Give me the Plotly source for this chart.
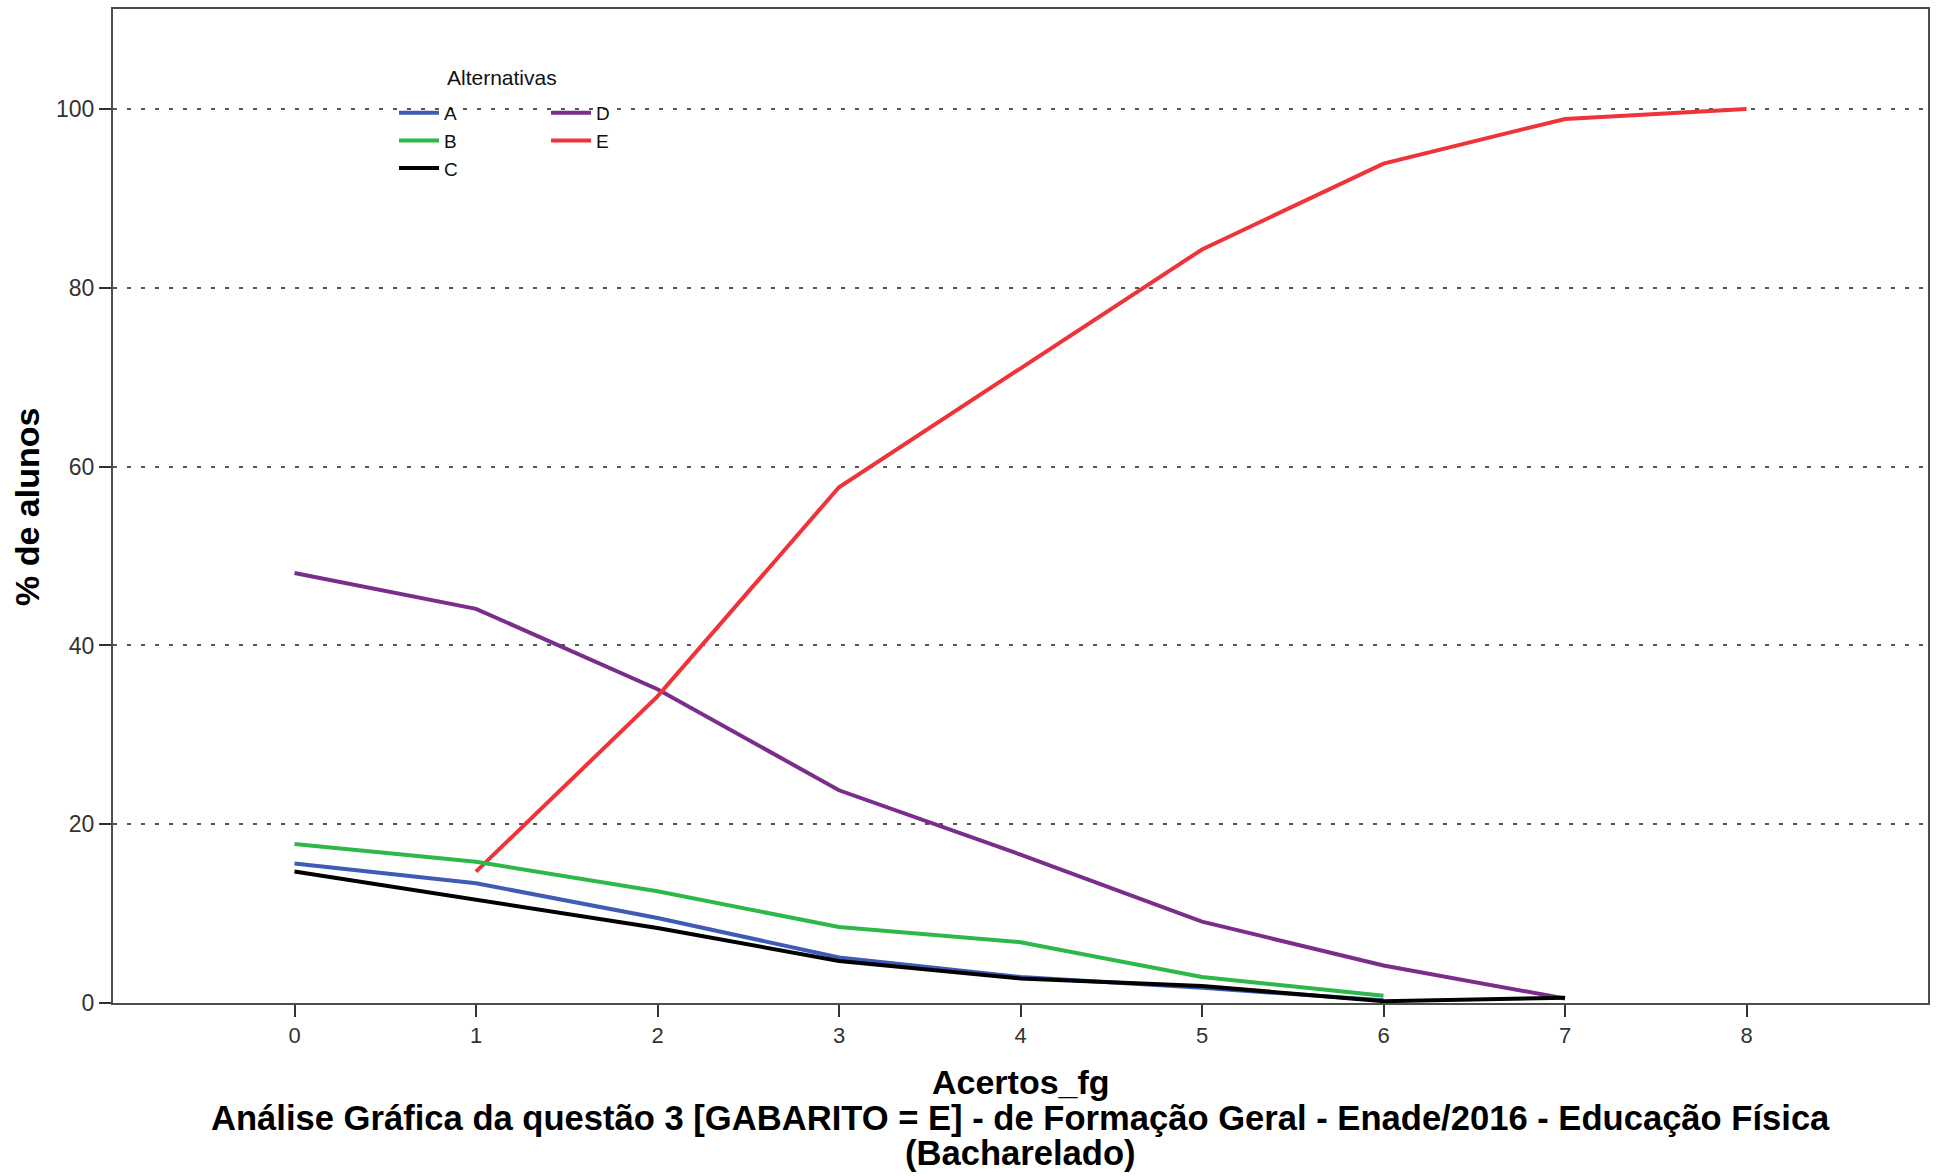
import plotly.graph_objects as go

# ---- data ----
acertos = [0, 1, 2, 3, 4, 5, 6, 7, 8]
alt_A = [15.6, 13.4, 9.5, 5.1, 2.9, 1.7, 0.3]
alt_B = [17.8, 15.8, 12.5, 8.5, 6.8, 2.9, 0.8]
alt_C = [14.7, 11.5, 8.4, 4.7, 2.75, 1.9, 0.2, 0.6]
alt_D = [48.1, 44.1, 35.1, 23.8, 16.6, 9.1, 4.2, 0.5]
alt_E_x = [1, 2, 3, 4, 5, 6, 7, 8]
alt_E = [14.7, 34.3, 57.7, 71.0, 84.3, 93.9, 98.9, 100.0]

y_ticks = [0, 20, 40, 60, 80, 100]
x_ticks = [0, 1, 2, 3, 4, 5, 6, 7, 8]

x_title = "Acertos_fg"
y_title = "% de alunos"
title_line1 = ("Análise Gráfica da questão 3 [GABARITO = E] - de Formação Geral - "
               "Enade/2016 - Educação Física")
title_line2 = "(Bacharelado)"
legend_title = "Alternativas"

colors = {"A": "#3F5BB3", "B": "#2DB84A", "C": "#000000", "D": "#7B2D8C", "E": "#EF3339"}

FONT = "Liberation Sans, Arial, sans-serif"

W, H = 1942, 1176
L, R, T, B = 113, 14, 7, 173
PW, PH = W - L - R, H - T - B

def px_x(px):
    return (px - L) / PW

def px_y(py):
    return (H - B - py) / PH

fig = go.Figure()

def add(name, x, y, legend):
    fig.add_trace(go.Scatter(
        x=x, y=y, mode="lines", name=name,
        line=dict(color=colors[name], width=4),
        legend=legend, hoverinfo="skip"))

# drawing order: D, E, B, A, C (black on top of blue)
add("D", acertos[:len(alt_D)], alt_D, "legend2")
add("E", alt_E_x, alt_E, "legend2")
add("B", acertos[:len(alt_B)], alt_B, "legend")
add("A", acertos[:len(alt_A)], alt_A, "legend")
add("C", acertos[:len(alt_C)], alt_C, "legend")

for tr in fig.data:
    tr.legendrank = {"A": 1, "B": 2, "C": 3, "D": 4, "E": 5}[tr.name]

legend_common = dict(
    font=dict(family=FONT, size=19, color="#111"),
    bgcolor="rgba(0,0,0,0)", borderwidth=0,
    orientation="v", xanchor="left", yanchor="top",
    itemwidth=40, tracegroupgap=0, itemclick=False, itemdoubleclick=False,
    traceorder="normal",
)

fig.update_layout(
    width=W, height=H,
    margin=dict(l=L, r=R, t=T, b=B),
    paper_bgcolor="white", plot_bgcolor="white",
    font=dict(family=FONT, color="#222"),
    showlegend=True,
    legend=dict(x=px_x(394), y=px_y(92), **legend_common),
    legend2=dict(x=px_x(546), y=px_y(92), **legend_common),
    xaxis=dict(
        range=[-1, 9], tickvals=x_ticks, ticktext=[str(v) for v in x_ticks],
        showgrid=False, zeroline=False,
        showline=True, mirror=True, linecolor="#4d4d4d", linewidth=2,
        ticks="outside", ticklen=12, tickwidth=1.5, tickcolor="#333",
        tickfont=dict(family=FONT, size=22, color="#333"),
    ),
    yaxis=dict(
        range=[0, 111.2], tickvals=y_ticks, ticktext=[str(v) for v in y_ticks],
        showgrid=True, gridcolor="#555", gridwidth=2, griddash="4px,10px",
        zeroline=False,
        showline=True, mirror=True, linecolor="#4d4d4d", linewidth=2,
        ticks="outside", ticklen=12, tickwidth=1.5, tickcolor="#333",
        tickfont=dict(family=FONT, size=23, color="#333"),
    ),
    annotations=[
        dict(text=legend_title, xref="paper", yref="paper",
             x=px_x(502), y=px_y(76), xanchor="center", yanchor="middle",
             showarrow=False, font=dict(family=FONT, size=21, color="#111")),
        dict(text="<b>%s</b>" % x_title, xref="paper", yref="paper",
             x=0.5, y=px_y(1082), xanchor="center", yanchor="middle",
             showarrow=False, font=dict(family=FONT, size=34, color="#000")),
        dict(text="<b>%s</b>" % title_line1, xref="paper", yref="paper",
             x=0.5, y=px_y(1118), xanchor="center", yanchor="middle",
             showarrow=False, font=dict(family=FONT, size=34.6, color="#000")),
        dict(text="<b>%s</b>" % title_line2, xref="paper", yref="paper",
             x=0.5, y=px_y(1153), xanchor="center", yanchor="middle",
             showarrow=False, font=dict(family=FONT, size=34.6, color="#000")),
        dict(text="<b>%s</b>" % y_title, xref="paper", yref="paper",
             x=px_x(27), y=px_y(506), xanchor="center", yanchor="middle",
             textangle=-90, showarrow=False,
             font=dict(family=FONT, size=34, color="#000")),
    ],
)

fig.write_html("out.html",
               config={"displayModeBar": False},
               post_script="document.body.style.margin='0';document.body.style.overflow='hidden';")
